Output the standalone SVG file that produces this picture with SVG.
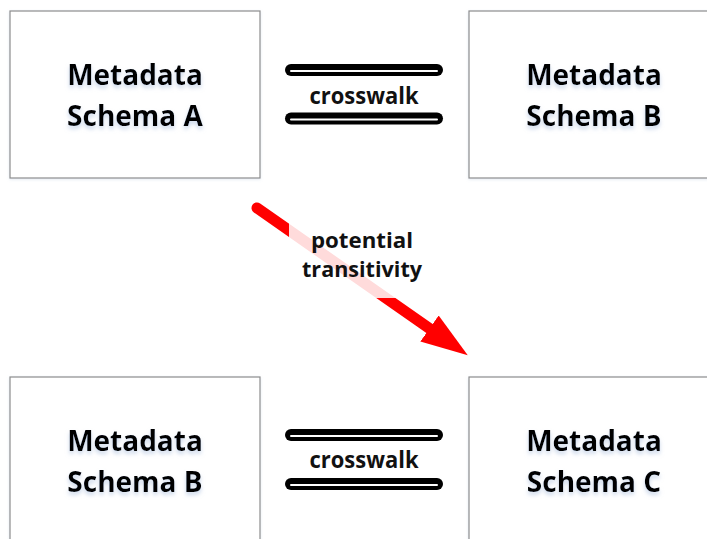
<svg xmlns="http://www.w3.org/2000/svg" width="707" height="539" viewBox="0 0 707 539">
  <style>
    .box { fill: #ffffff; stroke: #8c8c8c; stroke-width: 1.2; }
    .lbl { font-family: "Open Sans", "Liberation Sans", sans-serif; font-weight: 700; font-size: 28px; fill: #000; text-anchor: middle; }
    .small { font-family: "Open Sans", "Liberation Sans", sans-serif; font-weight: 700; font-size: 24px; fill: #111; text-anchor: middle; }
    .mid { font-family: "Open Sans", "Liberation Sans", sans-serif; font-weight: 700; font-size: 22px; fill: #111; text-anchor: middle; }
    .barOuter { stroke: #000; stroke-width: 12; stroke-linecap: round; fill: none; }
    .barInner { stroke: #fff; stroke-width: 2; stroke-linecap: round; fill: none; }
    .arrow { stroke: #ff0000; stroke-width: 11; stroke-linecap: round; fill: none; }
  </style>
  <defs>
    <filter id="glow" x="-20%" y="-30%" width="140%" height="170%">
      <feGaussianBlur in="SourceAlpha" stdDeviation="2.2" result="b"/>
      <feOffset in="b" dx="0" dy="2.5" result="o"/>
      <feFlood flood-color="#9fb6d9" flood-opacity="0.55"/>
      <feComposite in2="o" operator="in" result="s"/>
      <feMerge>
        <feMergeNode in="s"/>
        <feMergeNode in="SourceGraphic"/>
      </feMerge>
    </filter>
    <filter id="boxshadow" x="-5%" y="-5%" width="110%" height="110%">
      <feGaussianBlur in="SourceAlpha" stdDeviation="1.5" result="b"/>
      <feOffset in="b" dx="0" dy="1" result="o"/>
      <feFlood flood-color="#c8d4e6" flood-opacity="0.5"/>
      <feComposite in2="o" operator="in" result="s"/>
      <feMerge>
        <feMergeNode in="s"/>
        <feMergeNode in="SourceGraphic"/>
      </feMerge>
    </filter>
    <marker id="head" markerUnits="userSpaceOnUse" viewBox="0 -18 48 36" refX="0" refY="0" markerWidth="48" markerHeight="36" orient="auto">
      <polygon points="0,-16 46.7,0 0,16" fill="#ff0000"/>
    </marker>
  </defs>

  <g id="schemaA_top">
    <rect class="box" x="10" y="11" width="250" height="167" filter="url(#boxshadow)"/>
    <text class="lbl" x="135" y="85" filter="url(#glow)">Metadata</text>
    <text class="lbl" x="135" y="126" filter="url(#glow)">Schema A</text>
  </g>
  <g id="schemaB_top">
    <rect class="box" x="469" y="11" width="250" height="167" filter="url(#boxshadow)"/>
    <text class="lbl" x="594" y="85" filter="url(#glow)">Metadata</text>
    <text class="lbl" x="594" y="126" filter="url(#glow)">Schema B</text>
  </g>
  <g id="schemaB_bottom">
    <rect class="box" x="10" y="377" width="250" height="167" filter="url(#boxshadow)"/>
    <text class="lbl" x="135" y="451" filter="url(#glow)">Metadata</text>
    <text class="lbl" x="135" y="492" filter="url(#glow)">Schema B</text>
  </g>
  <g id="schemaC_bottom">
    <rect class="box" x="469" y="377" width="250" height="167" filter="url(#boxshadow)"/>
    <text class="lbl" x="594" y="451" filter="url(#glow)">Metadata</text>
    <text class="lbl" x="594" y="492" filter="url(#glow)">Schema C</text>
  </g>

  <g id="connectors">
    <g id="crosswalk_top">
      <line class="barOuter" x1="291" y1="70" x2="437" y2="70"/>
      <line class="barInner" x1="291" y1="71" x2="437" y2="71"/>
      <line class="barOuter" x1="291" y1="118.5" x2="437" y2="118.5"/>
      <line class="barInner" x1="291" y1="119.5" x2="437" y2="119.5"/>
      <text class="small" x="364" y="104" textLength="109" lengthAdjust="spacingAndGlyphs">crosswalk</text>
    </g>
    <g id="crosswalk_bottom">
      <line class="barOuter" x1="291" y1="435" x2="437" y2="435"/>
      <line class="barInner" x1="291" y1="436" x2="437" y2="436"/>
      <line class="barOuter" x1="291" y1="484" x2="437" y2="484"/>
      <line class="barInner" x1="291" y1="485" x2="437" y2="485"/>
      <text class="small" x="364" y="468" textLength="109" lengthAdjust="spacingAndGlyphs">crosswalk</text>
    </g>
    <g id="transitivity">
      <line class="arrow" x1="257" y1="208" x2="429.5" y2="328.5" stroke-linecap="round" marker-end="url(#head)"/>
      <rect x="289" y="219" width="146" height="79" fill="#ffffff" fill-opacity="0.86"/>
      <text class="mid" x="362" y="248" textLength="102" lengthAdjust="spacingAndGlyphs">potential</text>
      <text class="mid" x="362" y="277" textLength="120" lengthAdjust="spacingAndGlyphs">transitivity</text>
    </g>
  </g>
</svg>
